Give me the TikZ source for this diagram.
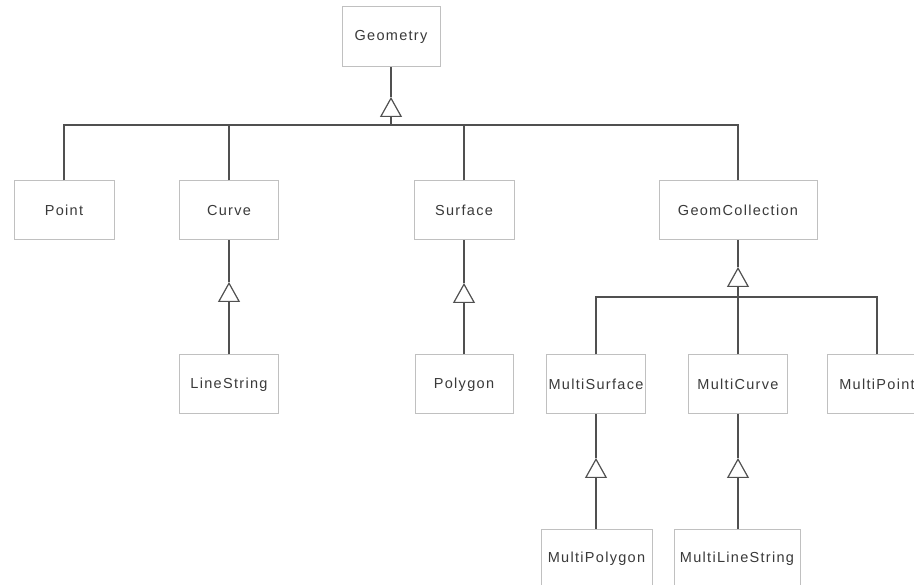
\documentclass[tikz,border=0pt]{standalone}
\usepackage{fontspec}
\setmainfont{Liberation Sans}[LetterSpace=9]
\usetikzlibrary{arrows.meta}
\definecolor{boxline}{HTML}{C0C0C0}
\definecolor{conn}{HTML}{505050}
\definecolor{txt}{HTML}{3A3A3A}
\tikzset{
  cls/.style={draw=boxline, line width=1pt, fill=white, minimum height=59pt, inner sep=0pt,
              text=txt, font=\fontsize{14.5}{16}\selectfont},
  link/.style={draw=conn, line width=1.3pt},
  gen/.style={link, -{Triangle[open, width=22pt, length=20pt, line width=1.2pt, fill=white]}}
}
\begin{document}
\begin{tikzpicture}[x=1pt,y=-1pt]
\path[use as bounding box] (0,0) rectangle (914,585);
\clip (0,0) rectangle (914,585);
% classes
\node[cls, minimum width=98pt, minimum height=60pt] (geom) at (391,37) {Geometry};
\node[cls, minimum width=100pt] (point) at (64,210.5) {Point};
\node[cls, minimum width=99pt] (curve) at (229,210.5) {Curve};
\node[cls, minimum width=100pt] (surface) at (464,210.5) {Surface};
\node[cls, minimum width=158pt] (gcoll) at (738,210.5) {GeomCollection};
\node[cls, minimum width=99pt] (lstring) at (229,384.5) {LineString};
\node[cls, minimum width=98pt] (polygon) at (464,384.5) {Polygon};
\node[cls, minimum width=99pt] (msurf) at (596,384.5) {MultiSurface};
\node[cls, minimum width=99pt] (mcurve) at (738,384.5) {MultiCurve};
\node[cls, minimum width=100pt] (mpoint) at (877,384.5) {MultiPoint};
\node[cls, minimum width=111pt] (mpoly) at (596.5,558.5) {MultiPolygon};
\node[cls, minimum width=126pt] (mls) at (737,558.5) {MultiLineString};
% junctions and triangle apexes
\coordinate (gapex) at (391,97);
\coordinate (gjoin) at (391,125);
\coordinate (capex) at (229,282);
\coordinate (sapex) at (464,283);
\coordinate (kapex) at (738,267);
\coordinate (kjoin) at (738,297);
\coordinate (msapex) at (596,458);
\coordinate (mcapex) at (738,458);
% Geometry hierarchy
\draw[link] (geom.south) -- (gapex);
\draw[gen] (gjoin) -- (gapex);
\draw[link] (point.north) |- (gjoin);
\draw[link] (curve.north) |- (gjoin);
\draw[link] (surface.north) |- (gjoin);
\draw[link] (gcoll.north) |- (gjoin);
% Curve / Surface
\draw[link] (curve.south) -- (capex);
\draw[gen] (lstring.north) -- (capex);
\draw[link] (surface.south) -- (sapex);
\draw[gen] (polygon.north) -- (sapex);
% GeomCollection hierarchy
\draw[link] (gcoll.south) -- (kapex);
\draw[gen] (kjoin) -- (kapex);
\draw[link] (msurf.north) |- (kjoin);
\draw[link] (mcurve.north) |- (kjoin);
\draw[link] (mpoint.north) |- (kjoin);
% Multi*
\draw[link] (msurf.south) -- (msapex);
\draw[gen] (mpoly.north -| msapex) -- (msapex);
\draw[link] (mcurve.south) -- (mcapex);
\draw[gen] (mls.north -| mcapex) -- (mcapex);
\end{tikzpicture}
\end{document}
